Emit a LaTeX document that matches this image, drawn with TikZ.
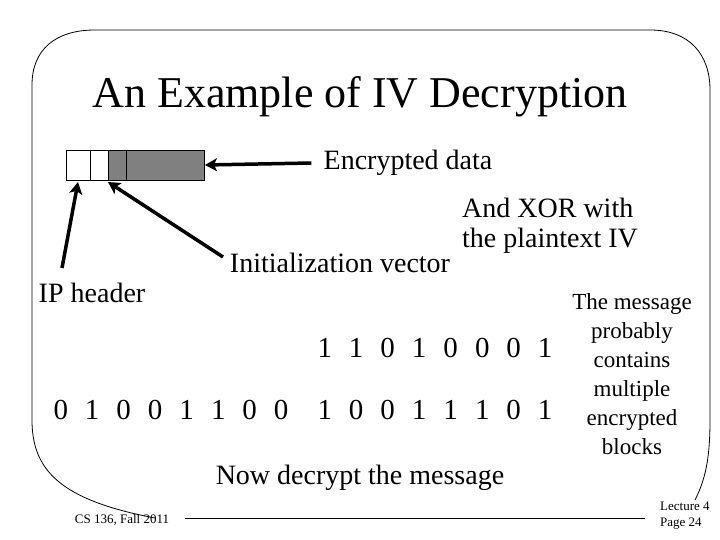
\documentclass[tikz,border=0pt]{standalone}
\usepackage{fontspec}
\setmainfont{Liberation Serif}
\usetikzlibrary{arrows.meta}
\newcommand{\bsp}{\hspace{17pt}}
\begin{document}
\begin{tikzpicture}[x=1pt,y=-1pt,
  arr/.style={line width=3.5pt,-{Stealth[length=12pt,width=13pt,inset=3pt]}},
  txt/.style={inner sep=0pt,font=\fontsize{28}{30}\selectfont},
  bits/.style={inner sep=0pt,font=\fontsize{29}{30}\selectfont}]
\useasboundingbox (0,0) rectangle (720,540);
% frame
\draw[line width=0.8pt] (185,518) -- (645,518);
\draw[line width=0.8pt] (155,518) .. controls (60,500) and (32,470) .. (32,420) -- (32,85) .. controls (32,50) and (55,30) .. (95,30) -- (650,30) .. controls (690,30) and (710,55) .. (710,90) -- (710,420) .. controls (710,460) and (705,480) .. (695,500);
% boxes
\fill[gray] (108,150) rectangle (204,180);
\draw[line width=0.8pt] (66,150) rectangle (204,180);
\draw[line width=0.8pt] (90,150) -- (90,180) (108,150) -- (108,180) (126,150) -- (126,180);
\coordinate (hdr) at (78,182);
\coordinate (iv) at (108,182);
\coordinate (enc) at (205,165);
% texts
\node[inner sep=0pt,font=\fontsize{44}{48}\selectfont] (title) at (360,97) {An Example of IV Decryption};
\node[txt] (encd) at (408,163) {Encrypted data};
\node[txt,anchor=west,align=left] (xor) at (462,226) {And XOR with\\the plaintext IV};
\node[txt] (ivt) at (340,263) {Initialization vector};
\node[txt] (ip) at (92,293) {IP header};
\node[bits] (b1) at (435,348) {1\bsp1\bsp0\bsp1\bsp0\bsp0\bsp0\bsp1};
\node[bits] (b2) at (171,410) {0\bsp1\bsp0\bsp0\bsp1\bsp1\bsp0\bsp0};
\node[bits] (b3) at (435,410) {1\bsp0\bsp0\bsp1\bsp1\bsp1\bsp0\bsp1};
\node[inner sep=0pt,align=center,font=\fontsize{23}{29}\selectfont] (msg) at (632,374) {The message\\probably\\contains\\multiple\\encrypted\\blocks};
\node[txt] (now) at (360,478) {Now decrypt the message};
\node[inner sep=0pt,font=\fontsize{13}{15}\selectfont] (cs) at (122,520) {CS 136, Fall 2011};
\node[inner sep=0pt,align=left,anchor=west,font=\fontsize{13}{16}\selectfont] (lec) at (660,516) {Lecture 4\\Page 24};
% arrows
\draw[arr] (encd.west) ++(-12,0) -- (enc);
\draw[arr] (62,268) -- (hdr);
\draw[arr] (223,257) -- (iv);
\end{tikzpicture}
\end{document}
